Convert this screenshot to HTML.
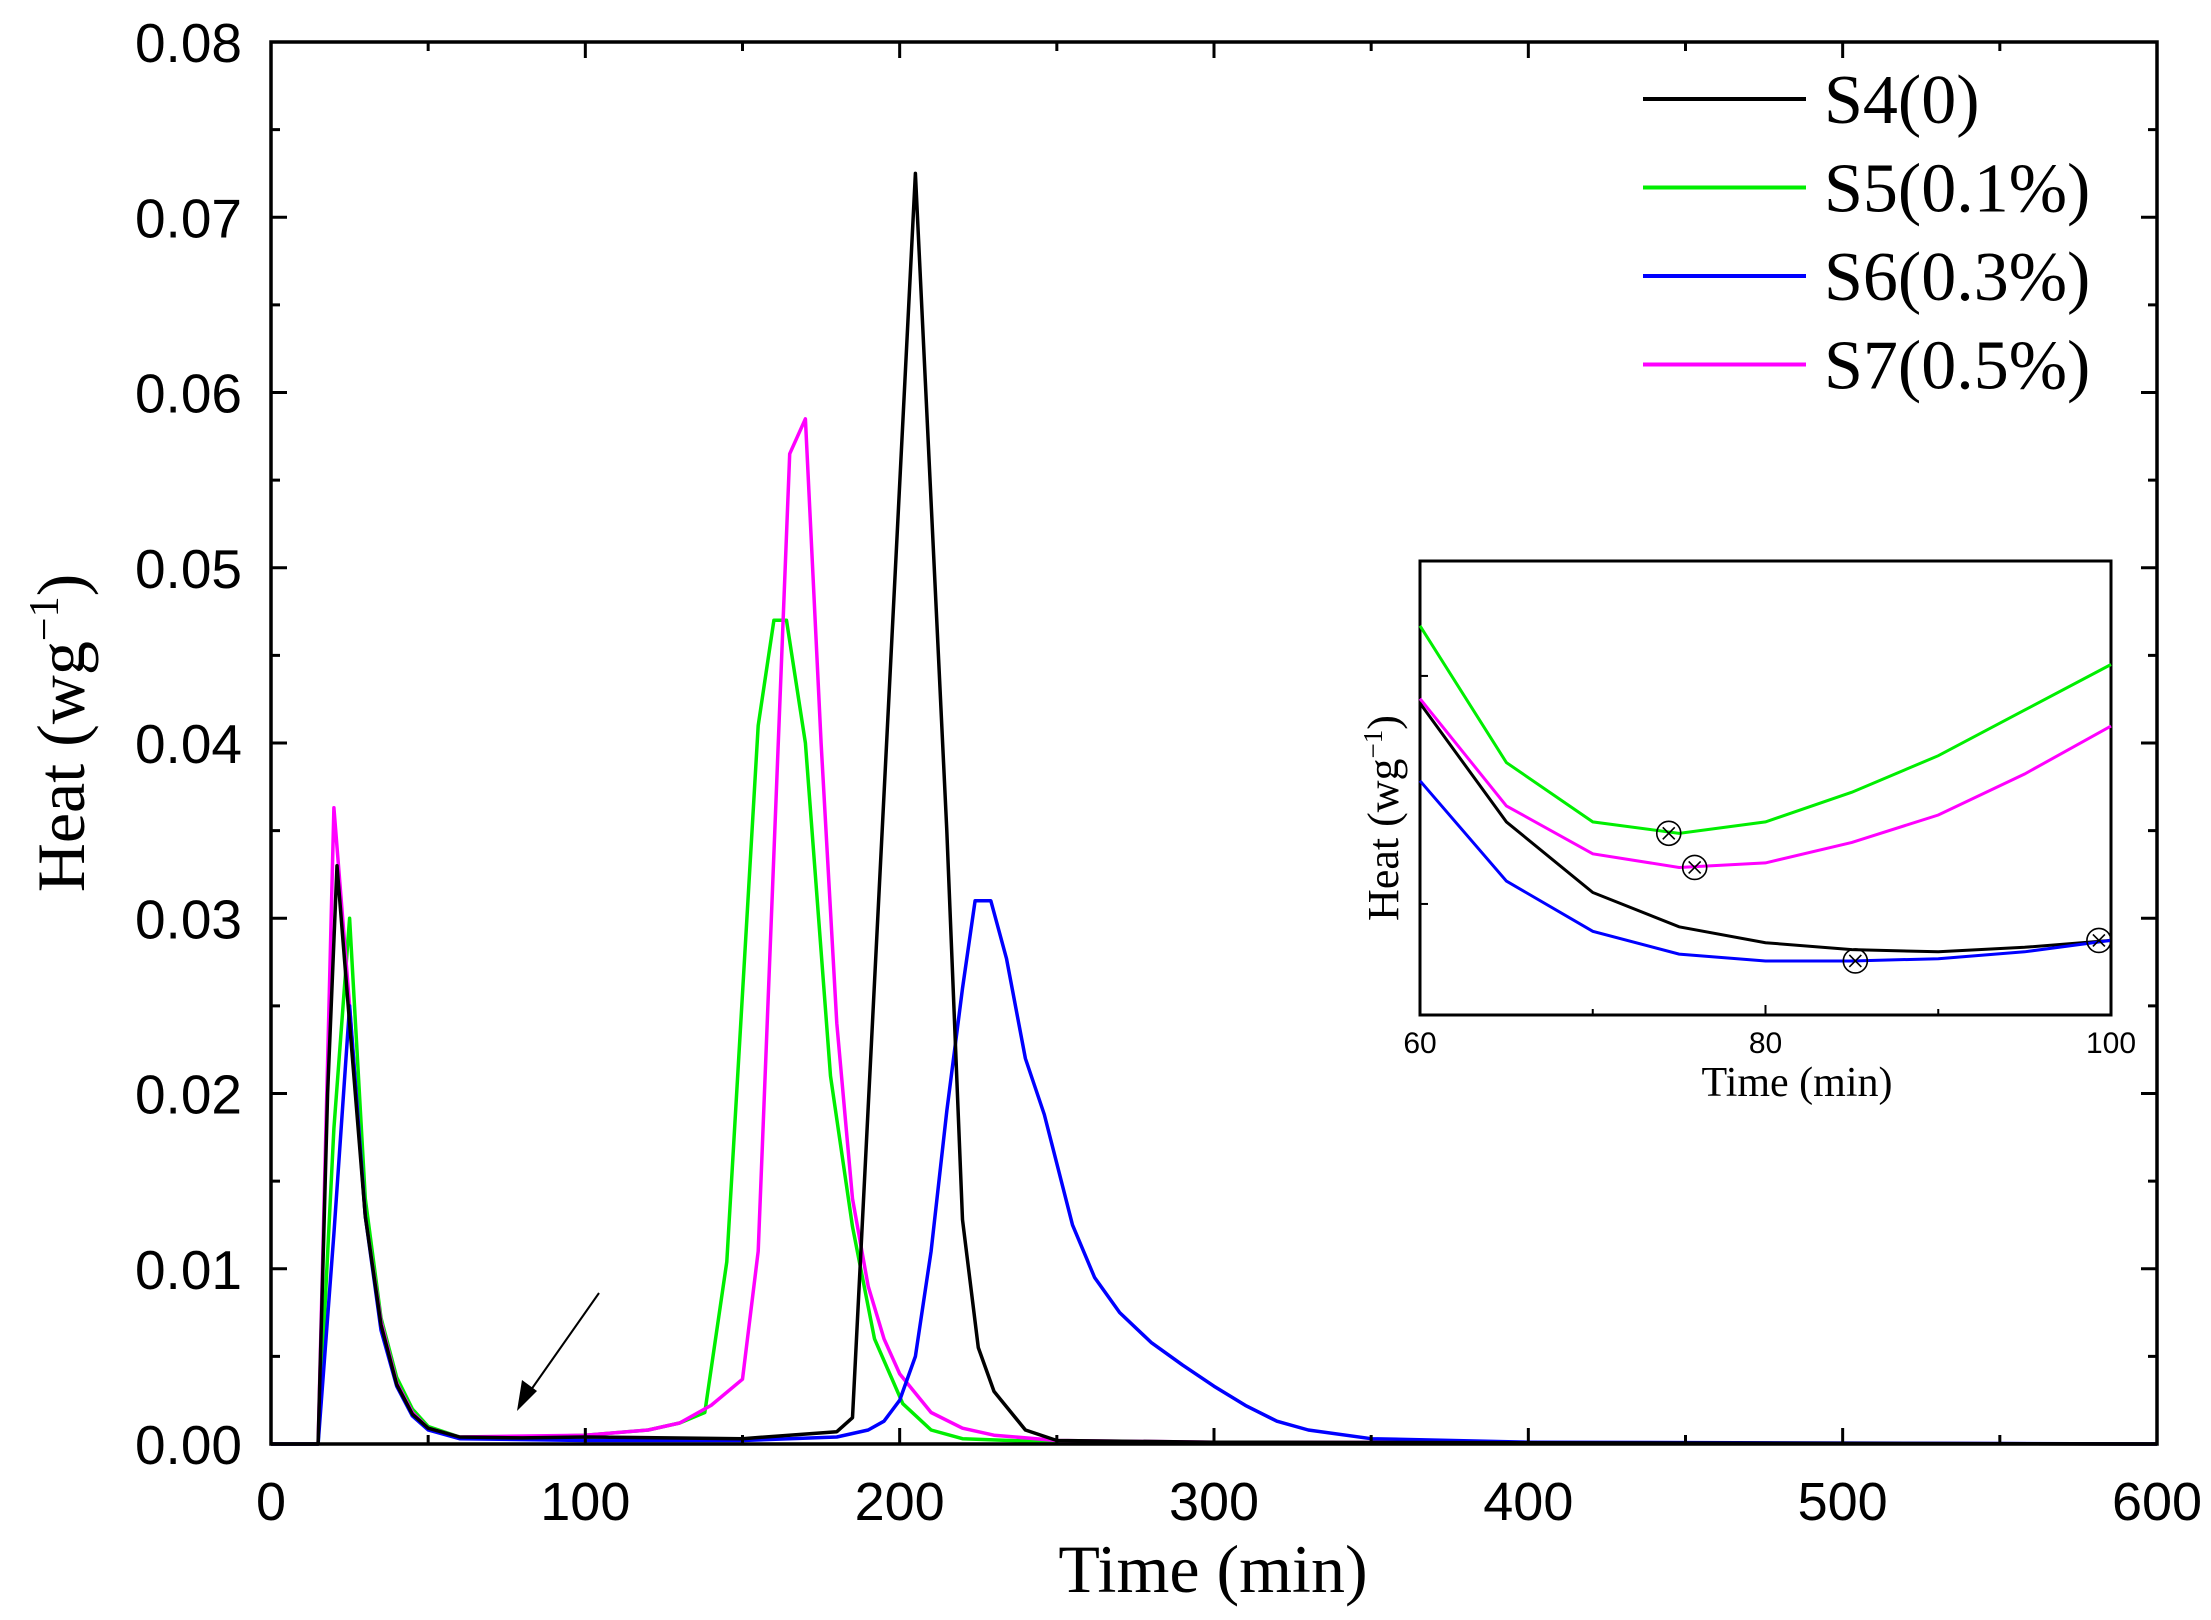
<!DOCTYPE html>
<html><head><meta charset="utf-8"><style>
html,body{margin:0;padding:0;background:#fff;}
svg{display:block;}
</style></head><body>
<svg id="chart" width="2211" height="1620" viewBox="0 0 2211 1620" xmlns="http://www.w3.org/2000/svg"></svg>
<script>
// ---- main chart data ----
const s4Time = [0,15,18,21,25,30,35,40,45,50,60,80,100,150,180,185,205,215,220,225,230,240,250,300,600];
const s4Heat = [0,0,0.02,0.033,0.024,0.013,0.0068,0.0034,0.0017,0.0009,0.0004,0.00035,0.0004,0.0003,0.0007,0.0015,0.0725,0.035,0.0128,0.0055,0.003,0.0008,0.0002,0.0001,0];
const s5Time = [0,15,20,25,30,35,40,45,50,60,70,100,120,130,138,145,155,160,164,170,178,185,192,201,210,220,250,600];
const s5Heat = [0,0,0.018,0.030,0.014,0.0072,0.0038,0.002,0.001,0.0004,0.00035,0.0005,0.0008,0.0012,0.0018,0.0104,0.041,0.047,0.047,0.040,0.021,0.0124,0.006,0.0023,0.0008,0.0003,0.0001,0];
const s6Time = [0,15,20,25,30,35,40,45,50,60,100,150,180,190,195,200,205,210,215,220,224,229,234,240,246,255,262,270,280,290,300,310,320,330,350,400,600];
const s6Heat = [0,0,0.012,0.025,0.013,0.0065,0.0033,0.0016,0.0008,0.0003,0.0002,0.0002,0.0004,0.0008,0.0013,0.0025,0.0050,0.011,0.019,0.026,0.031,0.031,0.0277,0.022,0.0188,0.0125,0.0095,0.0075,0.0058,0.0045,0.0033,0.0022,0.0013,0.0008,0.0003,0.0001,0];
const s7Time = [0,15,20,25,30,35,40,45,50,60,100,120,130,140,150,155,165,170,175,180,185,190,195,200,210,220,230,250,300,600];
const s7Heat = [0,0,0.0363,0.025,0.013,0.007,0.0035,0.0018,0.0009,0.0004,0.0005,0.0008,0.0012,0.0022,0.0037,0.011,0.0565,0.0585,0.040,0.024,0.014,0.009,0.006,0.004,0.0018,0.0009,0.0005,0.0002,0.0001,0];
const xTicks = [0,100,200,300,400,500,600];
const yTicks = [0,0.01,0.02,0.03,0.04,0.05,0.06,0.07,0.08];
const yTickLabels = ["0.00","0.01","0.02","0.03","0.04","0.05","0.06","0.07","0.08"];
// ---- inset data ----
const insetTime = [60,65,70,75,80,85,90,95,100];
const insetS4 = [3.88,3.36,3.05,2.90,2.83,2.80,2.79,2.81,2.84];
const insetS5 = [4.22,3.62,3.36,3.31,3.36,3.49,3.65,3.85,4.05];
const insetS6 = [3.54,3.10,2.88,2.78,2.75,2.75,2.76,2.79,2.84];
const insetS7 = [3.90,3.43,3.22,3.16,3.18,3.27,3.39,3.57,3.78];
const insetMarkT = [74.4,75.9,85.2,99.3];
const insetMarkV = [3.31,3.16,2.75,2.84];
const insetXTicks = [60,80,100];
const insetYTicks = [3,4];

const NS="http://www.w3.org/2000/svg";
const svg=document.getElementById('chart');
function mk(tag,attrs,parent){const e=document.createElementNS(NS,tag);for(const k in attrs)e.setAttribute(k,attrs[k]);(parent||svg).appendChild(e);return e;}

const L=271,R=2157,T=42,B=1444;
const xs=t=>L+(t-0)/600*(R-L);
const ys=v=>B-(v-0)/0.08*(B-T);

const colors={s4:'#000000',s5:'#00ee00',s6:'#0000ff',s7:'#ff00ff'};
function path(tArr,vArr,fx,fy,color,name,w){
  let d='';
  for(let i=0;i<tArr.length;i++){d+=(i?'L':'M')+fx(tArr[i]).toFixed(1)+','+fy(vArr[i]).toFixed(1);}
  const p=mk('path',{d:d,fill:'none',stroke:color,'stroke-width':w,'stroke-linejoin':'round'});
  
  
  return p;
}
path(s5Time,s5Heat,xs,ys,colors.s5,'series-s5',3.5);
path(s7Time,s7Heat,xs,ys,colors.s7,'series-s7',3.5);
path(s6Time,s6Heat,xs,ys,colors.s6,'series-s6',3.5);
path(s4Time,s4Heat,xs,ys,colors.s4,'series-s4',3.5);

const frame=mk('rect',{x:L,y:T,width:R-L,height:B-T,fill:'none',stroke:'#000','stroke-width':3.5});



for(let t=0;t<=600;t+=50){
  const major=(t%100===0); const len=major?16:9;
  mk('line',{x1:xs(t),y1:B,x2:xs(t),y2:B-len,stroke:'#000','stroke-width':3});
  mk('line',{x1:xs(t),y1:T,x2:xs(t),y2:T+len,stroke:'#000','stroke-width':3});
}
for(let v=0;v<=0.0801;v+=0.005){
  const major=(Math.round(v*1000)%10===0); const len=major?16:9;
  mk('line',{x1:L,y1:ys(v),x2:L+len,y2:ys(v),stroke:'#000','stroke-width':3});
  mk('line',{x1:R,y1:ys(v),x2:R-len,y2:ys(v),stroke:'#000','stroke-width':3});
}
xTicks.forEach(t=>{
  const e=mk('text',{x:xs(t),y:1520,'text-anchor':'middle','font-family':'Liberation Sans, sans-serif','font-size':54});
  e.textContent=t;
  
  
});
yTicks.forEach((v,i)=>{
  const e=mk('text',{x:242,y:ys(v)+20,'text-anchor':'end','font-family':'Liberation Sans, sans-serif','font-size':55});
  e.textContent=yTickLabels[i];
  
  
});
const xt=mk('text',{x:1213,y:1592,'text-anchor':'middle','font-family':'Liberation Serif, serif','font-size':68});
xt.textContent='Time (min)';


const yt=mk('text',{x:0,y:0,'text-anchor':'middle','font-family':'Liberation Serif, serif','font-size':68,transform:'translate(84,733) rotate(-90)'});
yt.innerHTML='Heat (wg<tspan dy="-26" font-size="42">−1</tspan><tspan dy="26">)</tspan>';



const legNames=['S4(0)','S5(0.1%)','S6(0.3%)','S7(0.5%)'];
const legCols=[colors.s4,colors.s5,colors.s6,colors.s7];
legNames.forEach((n,i)=>{
  const y=99+i*88.5;
  const g=mk('g',{});
  
  
  mk('line',{x1:1643,y1:y,x2:1806,y2:y,stroke:legCols[i],'stroke-width':4},g);
  const tx=mk('text',{x:1824,y:y+24,'font-family':'Liberation Serif, serif','font-size':70},g);
  tx.textContent=n;
});

const arr=mk('g',{});


mk('line',{x1:599,y1:1293,x2:526,y2:1397,stroke:'#000','stroke-width':2},arr);
mk('polygon',{points:'517,1411 522,1380 537,1391',fill:'#000'},arr);

const IL=1420,IR=2111,IT=561,IB=1015;
const ixs=t=>IL+(t-60)/40*(IR-IL);
const iyv0=2.513,iyv1=4.504;
const iys=v=>IB-(v-iyv0)/(iyv1-iyv0)*(IB-IT);
const inset=mk('g',{});


mk('rect',{x:IL,y:IT,width:IR-IL,height:IB-IT,fill:'#fff',stroke:'#000','stroke-width':3},inset);
function ipath(v,c,n){
  let d='';insetTime.forEach((t,i)=>{d+=(i?'L':'M')+ixs(t).toFixed(1)+','+iys(v[i]).toFixed(1);});
  const p=mk('path',{d:d,fill:'none',stroke:c,'stroke-width':3},inset);
  
  
}
ipath(insetS5,colors.s5,'inset-series-s5');
ipath(insetS7,colors.s7,'inset-series-s7');
ipath(insetS4,colors.s4,'inset-series-s4');
ipath(insetS6,colors.s6,'inset-series-s6');
insetMarkT.forEach((t,i)=>{
  const g=mk('g',{},inset);
  
  
  const cx=ixs(t),cy=iys(insetMarkV[i]);
  mk('circle',{cx:cx,cy:cy,r:12,fill:'none',stroke:'#000','stroke-width':1.6},g);
  mk('path',{d:`M${cx-6},${cy-6}L${cx+6},${cy+6}M${cx+6},${cy-6}L${cx-6},${cy+6}`,stroke:'#000','stroke-width':1.6},g);
});
for(let t=60;t<=100;t+=10){
  const len=(t%20===0)?10:6;
  mk('line',{x1:ixs(t),y1:IB,x2:ixs(t),y2:IB-len,stroke:'#000','stroke-width':2},inset);
}
insetYTicks.forEach(v=>{mk('line',{x1:IL,y1:iys(v),x2:IL+8,y2:iys(v),stroke:'#000','stroke-width':2},inset);});
insetXTicks.forEach(t=>{
  const e=mk('text',{x:ixs(t),y:1053,'text-anchor':'middle','font-family':'Liberation Sans, sans-serif','font-size':30},inset);
  e.textContent=t;
  
  
});
const ixt=mk('text',{x:1797,y:1096,'text-anchor':'middle','font-family':'Liberation Serif, serif','font-size':42},inset);
ixt.textContent='Time (min)';


const iyt=mk('text',{x:0,y:0,'text-anchor':'middle','font-family':'Liberation Serif, serif','font-size':44,transform:'translate(1398,818) rotate(-90)'},inset);
iyt.innerHTML='Heat (wg<tspan dy="-16" font-size="27">−1</tspan><tspan dy="16">)</tspan>';


</script>
</body></html>
